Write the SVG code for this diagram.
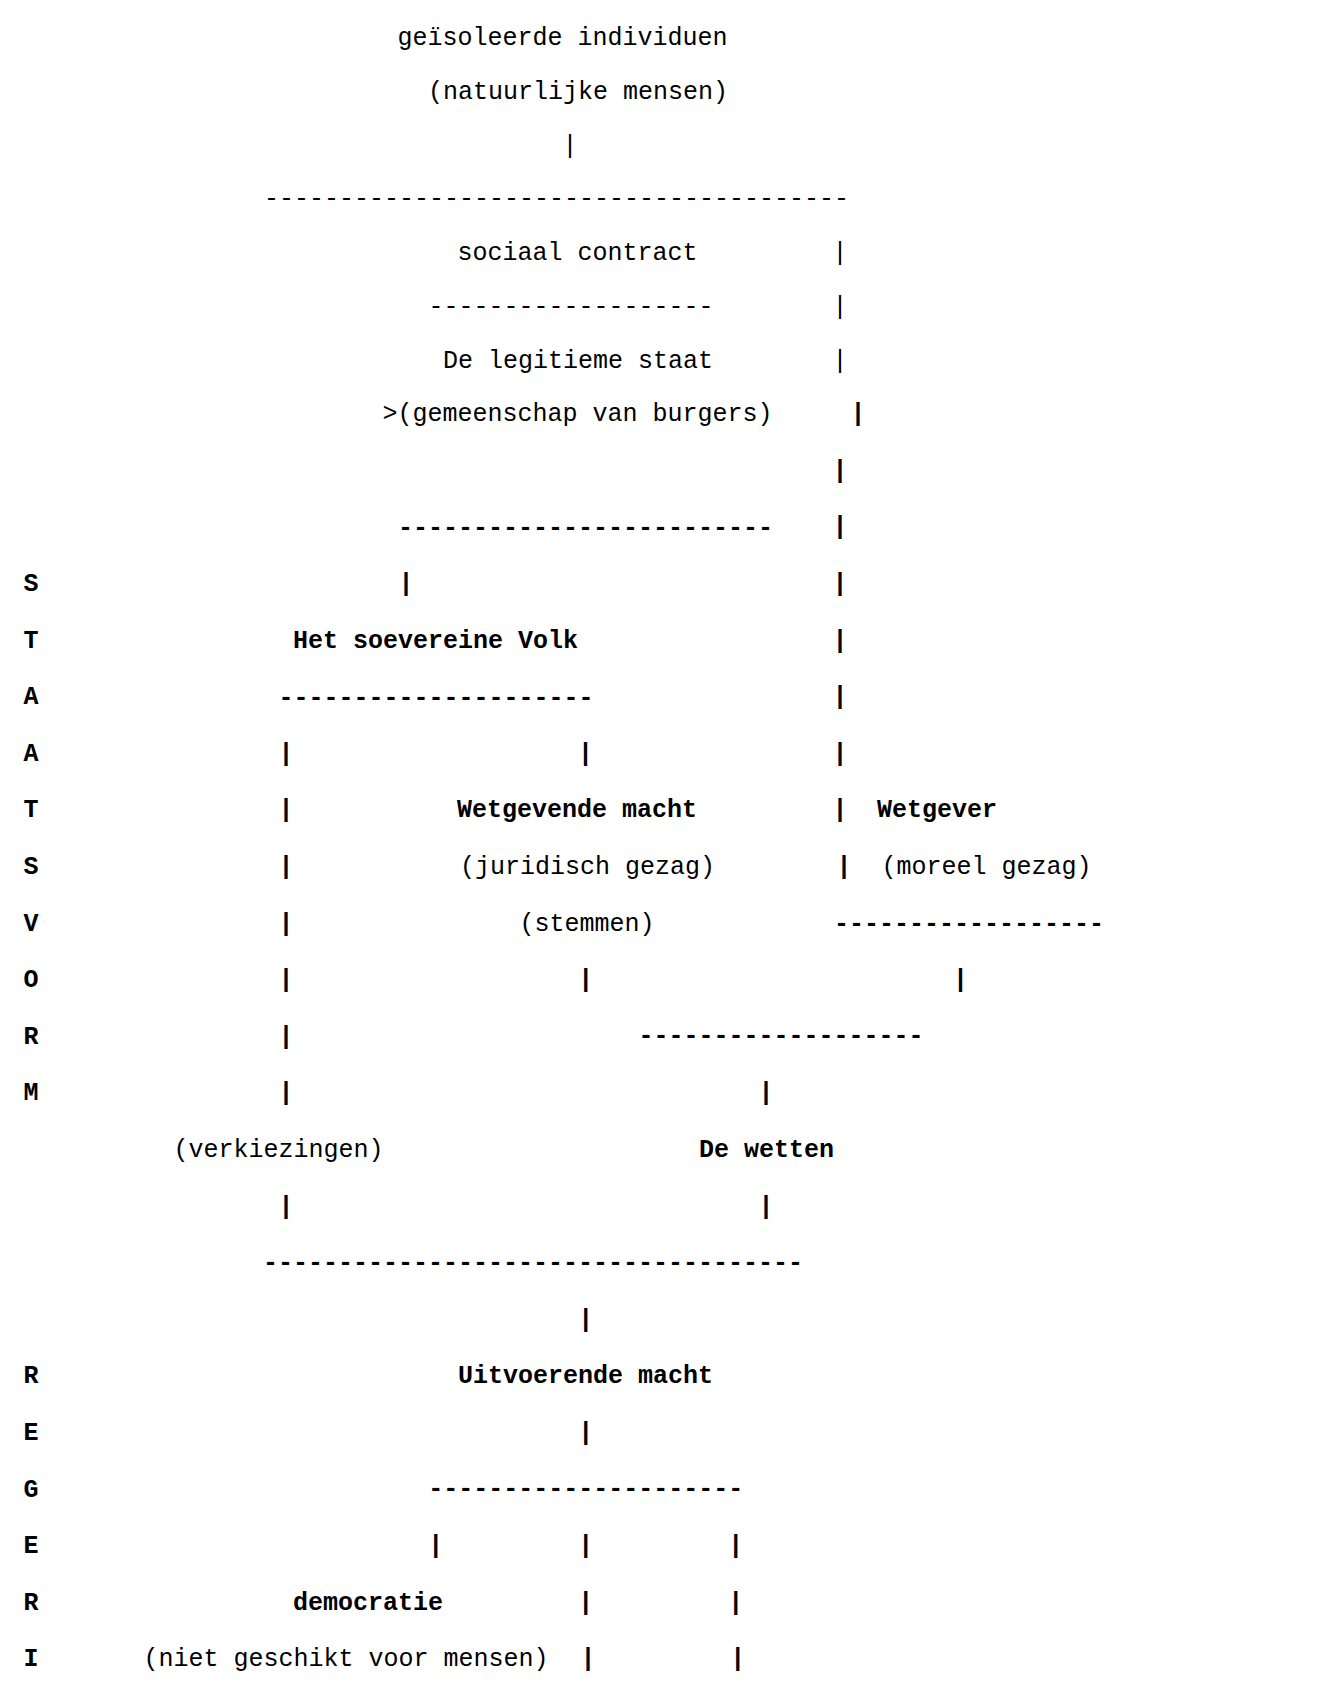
<svg xmlns="http://www.w3.org/2000/svg" width="1319" height="1685" viewBox="0 0 1319 1685">
<style>
text{font-family:"Liberation Mono","Courier New",monospace;font-size:25px;fill:#000;text-anchor:middle;white-space:pre}
.b{font-weight:bold}
</style>
<rect width="1319" height="1685" fill="#fff"/>
<g id="side-labels" class="b">
<text class="b" x="31" y="591">S</text>
<text class="b" x="31" y="647.6">T</text>
<text class="b" x="31" y="704.2">A</text>
<text class="b" x="31" y="760.8">A</text>
<text class="b" x="31" y="817.4">T</text>
<text class="b" x="31" y="874">S</text>
<text class="b" x="31" y="930.6">V</text>
<text class="b" x="31" y="987.2">O</text>
<text class="b" x="31" y="1043.8">R</text>
<text class="b" x="31" y="1100.4">M</text>
<text class="b" x="31" y="1383.4">R</text>
<text class="b" x="31" y="1440">E</text>
<text class="b" x="31" y="1496.6">G</text>
<text class="b" x="31" y="1553.2">E</text>
<text class="b" x="31" y="1609.8">R</text>
<text class="b" x="31" y="1666.4">I</text>
</g>
<g id="individuen">
<text x="562.5" y="45">geïsoleerde individuen</text>
<text x="578" y="98.75">(natuurlijke mensen)</text>
</g>
<g id="sociaal-contract">
<text x="577.5" y="260">sociaal contract</text>
</g>
<g id="legitieme-staat">
<text x="578" y="367.5">De legitieme staat</text>
<text x="577.5" y="421.2">&gt;(gemeenschap van burgers)</text>
</g>
<g id="soevereine-volk">
<text class="b" x="435.5" y="647.6">Het soevereine Volk</text>
</g>
<g id="wetgevende-macht">
<text class="b" x="577" y="817.4">Wetgevende macht</text>
<text x="587.5" y="874">(juridisch gezag)</text>
<text x="587" y="930.6">(stemmen)</text>
</g>
<g id="wetgever">
<text class="b" x="937" y="817.4">Wetgever</text>
<text x="986.5" y="874">(moreel gezag)</text>
</g>
<g id="verkiezingen">
<text x="278.5" y="1157">(verkiezingen)</text>
</g>
<g id="de-wetten">
<text class="b" x="766.5" y="1157">De wetten</text>
</g>
<g id="uitvoerende-macht">
<text class="b" x="585.5" y="1383.4">Uitvoerende macht</text>
</g>
<g id="democratie">
<text class="b" x="368" y="1609.8">democratie</text>
<text x="346" y="1666.4">(niet geschikt voor mensen)</text>
</g>
<g id="connectors">
<text x="570" y="152.5">|</text>
<text x="556.5" y="206">---------------------------------------</text>
<text x="840" y="260">|</text>
<text x="571" y="314">-------------------</text>
<text x="840" y="313.75">|</text>
<text x="840" y="367.5">|</text>
<g class="b">
<text class="b" x="858" y="421.2">|</text>
<text class="b" x="840" y="477.8">|</text>
<text class="b" x="585.5" y="535">-------------------------</text>
<text class="b" x="840" y="534.4">|</text>
<text class="b" x="406" y="591">|</text>
<text class="b" x="840" y="591">|</text>
<text class="b" x="840" y="647.6">|</text>
<text class="b" x="436" y="705">---------------------</text>
<text class="b" x="840" y="704.2">|</text>
<text class="b" x="286" y="760.8">|</text>
<text class="b" x="585.5" y="760.8">|</text>
<text class="b" x="840" y="760.8">|</text>
<text class="b" x="286" y="817.4">|</text>
<text class="b" x="840" y="817.4">|</text>
<text class="b" x="286" y="874">|</text>
<text class="b" x="844" y="874">|</text>
<text class="b" x="286" y="930.6">|</text>
<text x="969" y="931">------------------</text>
<text class="b" x="286" y="987.2">|</text>
<text class="b" x="585.7" y="987.2">|</text>
<text class="b" x="960.5" y="987.2">|</text>
<text class="b" x="286" y="1043.8">|</text>
<text class="b" x="781" y="1043">-------------------</text>
<text class="b" x="286" y="1100.4">|</text>
<text class="b" x="766" y="1100.4">|</text>
<text class="b" x="286" y="1213.6">|</text>
<text class="b" x="766" y="1213.6">|</text>
<text class="b" x="533" y="1270">------------------------------------</text>
<text class="b" x="585.7" y="1326.8">|</text>
<text class="b" x="585.7" y="1440">|</text>
<text class="b" x="585.7" y="1496">---------------------</text>
<text class="b" x="435.7" y="1553.2">|</text>
<text class="b" x="585.7" y="1553.2">|</text>
<text class="b" x="735.7" y="1553.2">|</text>
<text class="b" x="585.7" y="1609.8">|</text>
<text class="b" x="735.7" y="1609.8">|</text>
<text class="b" x="588" y="1666.4">|</text>
<text class="b" x="737.7" y="1666.4">|</text>
</g>
</g>
</svg>
